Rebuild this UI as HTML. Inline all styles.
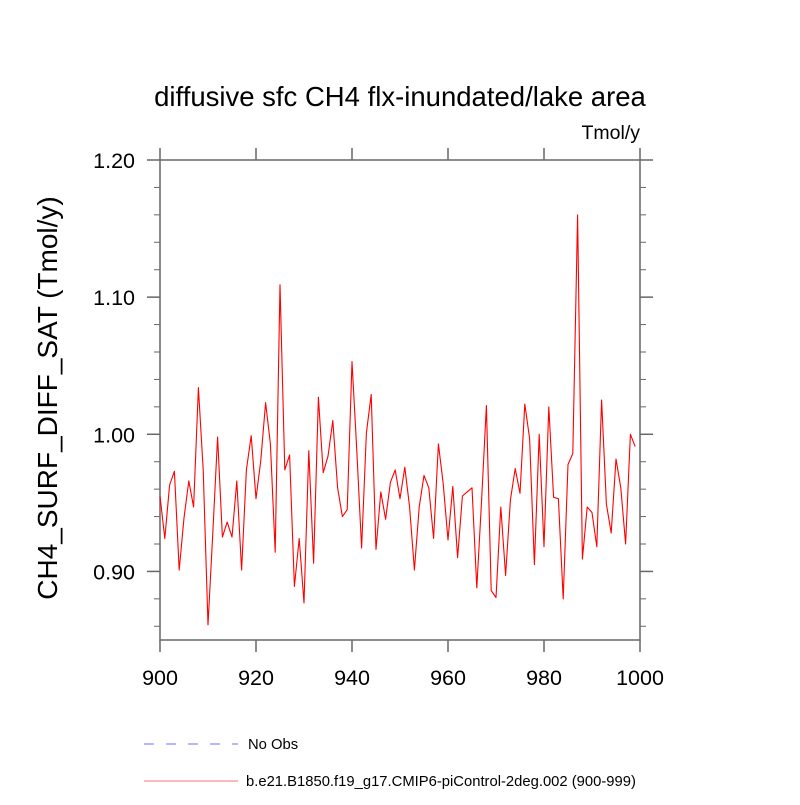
<!DOCTYPE html>
<html><head><meta charset="utf-8"><style>
html,body{margin:0;padding:0;background:#fff;}
svg text{font-family:"Liberation Sans",sans-serif;}
</style></head><body>
<svg id="chart" width="800" height="800" viewBox="0 0 800 800" xmlns="http://www.w3.org/2000/svg">
<rect width="800" height="800" fill="#fff"/>
<text x="400" y="106" font-size="27.5" text-anchor="middle">diffusive sfc CH4 flx-inundated/lake area</text>
<text x="640" y="139" font-size="19.5" text-anchor="end">Tmol/y</text>
<text transform="translate(57,398) rotate(-90)" font-size="28" text-anchor="middle">CH4_SURF_DIFF_SAT  (Tmol/y)</text>
<g id="axes"></g>
<polyline id="series" fill="none" stroke="#ff0000" stroke-width="1.1" stroke-linejoin="round"/>
<g>
<line x1="144" y1="744" x2="238" y2="744" stroke="#6f6fff" stroke-width="1" stroke-dasharray="10,12"/>
<text x="248" y="749" font-size="14.8">No Obs</text>
<line x1="144" y1="781" x2="238" y2="781" stroke="#ff7070" stroke-width="1"/>
<text x="246" y="786" font-size="14.8">b.e21.B1850.f19_g17.CMIP6-piControl-2deg.002 (900-999)</text>
</g>
</svg>
<script>
const years = Array.from({length:100},(_,i)=>900+i);
const values = [0.955,0.924,0.963,0.973,0.901,0.939,0.966,0.947,1.034,0.974,
0.861,0.928,0.998,0.925,0.936,0.925,0.966,0.901,0.974,0.999,
0.953,0.981,1.023,0.993,0.914,1.109,0.974,0.985,0.889,0.924,
0.877,0.988,0.906,1.027,0.972,0.984,1.010,0.961,0.940,0.945,
1.053,0.988,0.917,1.001,1.029,0.916,0.958,0.938,0.965,0.974,
0.953,0.976,0.947,0.901,0.947,0.970,0.961,0.924,0.993,0.964,
0.923,0.962,0.910,0.955,0.958,0.961,0.888,0.952,1.021,0.886,
0.881,0.947,0.897,0.952,0.975,0.957,1.022,0.997,0.905,1.000,
0.918,1.020,0.954,0.953,0.880,0.978,0.986,1.160,0.909,0.947,
0.943,0.918,1.025,0.949,0.928,0.982,0.961,0.920,1.000,0.991];
const xTicks = [900,920,940,960,980,1000];
const yTicks = [0.90,1.00,1.10,1.20];
const yMinor = [0.86,0.88,0.92,0.94,0.96,0.98,1.02,1.04,1.06,1.08,1.12,1.14,1.16,1.18];
const X0=160,X1=640,Y0=640,Y1=160,XMIN=900,XMAX=1000,YMIN=0.85,YMAX=1.20;
const sx=v=>X0+(v-XMIN)/(XMAX-XMIN)*(X1-X0);
const sy=v=>Y0-(v-YMIN)/(YMAX-YMIN)*(Y0-Y1);
const NS='http://www.w3.org/2000/svg';
const axes=document.getElementById('axes');
function mk(tag,attrs){const e=document.createElementNS(NS,tag);for(const k in attrs)e.setAttribute(k,attrs[k]);axes.appendChild(e);return e;}
const frame=mk('rect',{x:X0,y:Y1,width:X1-X0,height:Y0-Y1,fill:'none',stroke:'#666',"stroke-width":1.5});


xTicks.forEach(t=>{
  const x=sx(t);
  const a=mk('line',{x1:x,y1:Y0,x2:x,y2:Y0+12,stroke:'#666',"stroke-width":1.5});
  
  
  const b=mk('line',{x1:x,y1:Y1,x2:x,y2:Y1-12,stroke:'#666',"stroke-width":1.5});
  
  
  const l=mk('text',{x:x,y:Y0+45,"font-size":21.5,"text-anchor":"middle"});
  l.textContent=t;
  
  
});
yTicks.forEach(t=>{
  const y=sy(t);
  const a=mk('line',{x1:X0-13,y1:y,x2:X0,y2:y,stroke:'#666',"stroke-width":1.5});
  
  
  const b=mk('line',{x1:X1,y1:y,x2:X1+13,y2:y,stroke:'#666',"stroke-width":1.5});
  
  
  const l=mk('text',{x:X0-25,y:y+8,"font-size":21.5,"text-anchor":"end"});
  l.textContent=t.toFixed(2);
  
  
});
yMinor.forEach(t=>{
  const y=sy(t);
  const a=mk('line',{x1:X0-6,y1:y,x2:X0,y2:y,stroke:'#666',"stroke-width":1});
  
  
  const b=mk('line',{x1:X1,y1:y,x2:X1+6,y2:y,stroke:'#666',"stroke-width":1});
  
  
});
document.getElementById('series').setAttribute('points',years.map((yr,i)=>sx(yr).toFixed(1)+','+sy(values[i]).toFixed(1)).join(' '));
</script>
</body></html>
